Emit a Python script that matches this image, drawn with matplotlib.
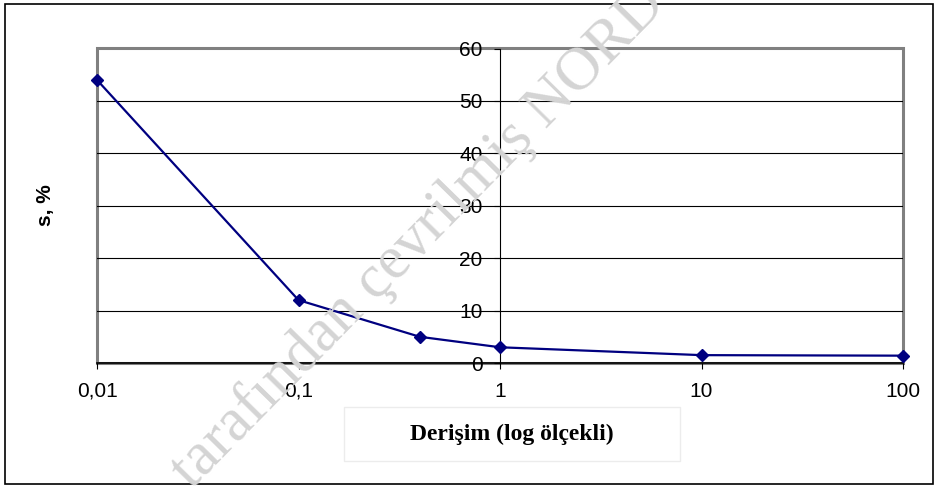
import matplotlib
matplotlib.use('Agg')
import matplotlib.pyplot as plt
from matplotlib.patches import Rectangle
from matplotlib.ticker import FixedLocator, NullLocator

# data
conc = [0.01, 0.1, 0.4, 1, 10, 100]
s_pct = [54, 12, 5, 3, 1.5, 1.4]
x_ticks = [0.01, 0.1, 1, 10, 100]
x_labels = ['0,01', '0,1', '1', '10', '100']
y_ticks = [0, 10, 20, 30, 40, 50, 60]

W, H = 934, 486
SANS = 'Liberation Sans'
SERIF = 'Liberation Serif'
NAVY = '#000080'

fig = plt.figure(figsize=(W / 100, H / 100), dpi=100)
fig.patch.set_facecolor('white')


def px(x, y):
    # pixel (top-left origin) -> figure fraction
    return x / W, 1 - y / H


# outer chart border
fig.patches.append(Rectangle(px(5, 484), 928 / W, 479.5 / H, transform=fig.transFigure,
                             fill=False, edgecolor='black', linewidth=1.2))

left, top = px(97, 48.5)
right, bottom = px(903, 363)
ax = fig.add_axes([left, bottom, right - left, top - bottom])
ax.set_xscale('log')
ax.set_xlim(0.01, 100)
ax.set_ylim(0, 60)

for sp in ['top', 'right']:
    ax.spines[sp].set_visible(False)
ax.spines['left'].set_position(('data', 1))
ax.spines['left'].set_color('black')
ax.spines['left'].set_linewidth(0.8)
ax.spines['left'].set_zorder(3)
ax.spines['bottom'].set_color('black')
ax.spines['bottom'].set_linewidth(1.2)
ax.spines['bottom'].set_zorder(3)

# gray plot-area frame
ax.add_patch(Rectangle((0, 0), 1, 1, transform=ax.transAxes, fill=False,
                       edgecolor='#808080', linewidth=2.2, clip_on=False, zorder=1))

for yv in y_ticks[1:-1]:
    ax.axhline(yv, color='black', linewidth=0.8, zorder=1)

ax.xaxis.set_major_locator(FixedLocator(x_ticks))
ax.xaxis.set_minor_locator(NullLocator())
ax.set_xticklabels(x_labels)
ax.set_yticks(y_ticks)
ax.tick_params(axis='both', direction='out', length=4.5, width=0.8, color='black',
               labelsize=15, labelcolor='black')
ax.tick_params(axis='x', pad=9)
ax.tick_params(axis='y', pad=8)
for lab in ax.get_xticklabels() + ax.get_yticklabels():
    lab.set_fontfamily(SANS)

ax.plot(conc, s_pct, color=NAVY, linewidth=1.6, marker='D', markersize=6.5,
        markerfacecolor=NAVY, markeredgecolor=NAVY, zorder=5, clip_on=False)

# axis titles
fig.text(*px(45, 205), 's, %', rotation=90, ha='center', va='center',
         fontsize=15, fontweight='bold', family=SANS)
fig.patches.append(Rectangle(px(344, 461), 336 / W, 54 / H, transform=fig.transFigure,
                             facecolor='white', edgecolor='#ececec', linewidth=1.0))
fig.text(*px(512, 434), 'Derişim (log ölçekli)', ha='center', va='center',
         fontsize=17, fontweight='bold', family=SERIF)

# watermark
fig.text(*px(192, 490), 'tarafından çevrilmiş NORD', rotation=45.5,
         rotation_mode='anchor', ha='left', va='baseline', fontsize=44,
         family=SERIF, color='#d4d4d4', zorder=10)

fig.savefig('out.png', dpi=100)
